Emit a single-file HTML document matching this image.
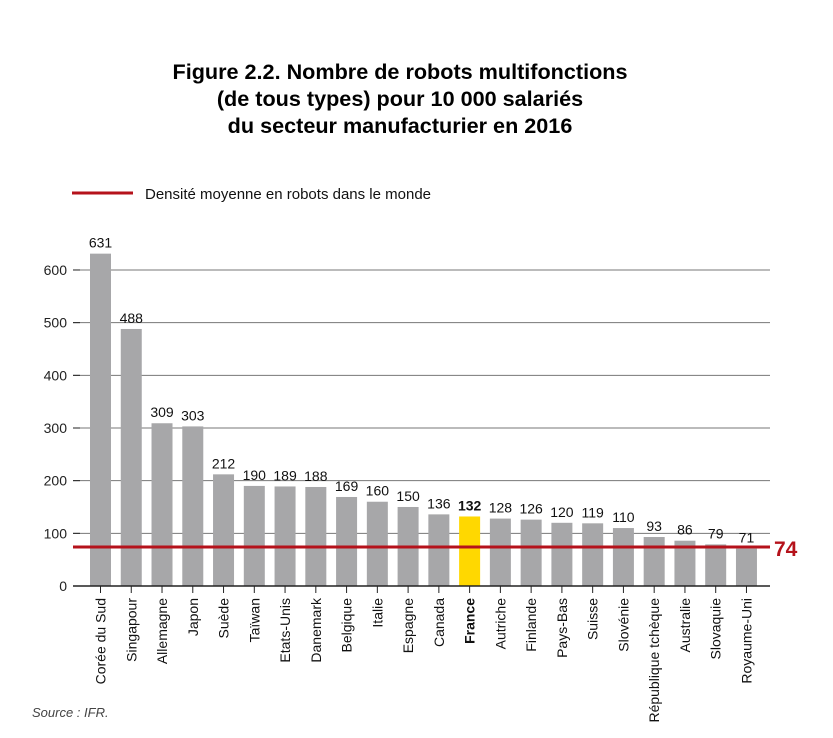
<!DOCTYPE html>
<html><head><meta charset="utf-8">
<style>
body{margin:0;background:#fff;width:833px;height:738px;overflow:hidden;font-family:"Liberation Sans",sans-serif;}
svg{position:absolute;left:0;top:0}
</style></head>
<body>
<svg id="c" width="833" height="738" font-family="Liberation Sans, sans-serif">
<g font-weight="bold" font-size="21" text-anchor="middle" fill="#000" transform="translate(400,0) scale(1.03,1)">
<text x="0" y="79">Figure 2.2. Nombre de robots multifonctions</text>
<text x="0" y="106">(de tous types) pour 10 000 salariés</text>
<text x="0" y="133">du secteur manufacturier en 2016</text>
</g>
<g>
<line x1="72" y1="193" x2="133" y2="193" stroke="#b5121b" stroke-width="3"/>
<text x="145" y="199" font-size="15" fill="#111">Densité moyenne en robots dans le monde</text>
</g>
<g id="grid"></g><g id="bars"></g><g id="axes"></g>
<text x="32" y="717" font-size="13" font-style="italic" fill="#444">Source : IFR.</text>
</svg>
<script>
const categories=["Corée du Sud","Singapour","Allemagne","Japon","Suède","Taïwan","Etats-Unis","Danemark","Belgique","Italie","Espagne","Canada","France","Autriche","Finlande","Pays-Bas","Suisse","Slovénie","République tchèque","Australie","Slovaquie","Royaume-Uni"];
const values=[631,488,309,303,212,190,189,188,169,160,150,136,132,128,126,120,119,110,93,86,79,71];
const yTicks=[0,100,200,300,400,500,600];
const worldAverage=74;
const NS="http://www.w3.org/2000/svg";
const y0=586,pxPer=0.5267,x0=100.5,step=30.76,bw=21,xL=73,xR=770;
const y=v=>y0-v*pxPer, x=i=>x0+i*step;
function mk(t,a,p){const e=document.createElementNS(NS,t);for(const k in a)e.setAttribute(k,a[k]);p.appendChild(e);return e;}
const grid=document.getElementById('grid'),bars=document.getElementById('bars'),axes=document.getElementById('axes');
yTicks.forEach(v=>{
 if(v>0){const g=mk('line',{x1:xL,x2:xR,y1:y(v),y2:y(v),stroke:'#777','stroke-width':1},grid);
 
 }
 const tk=mk('line',{x1:xL,x2:80,y1:y(v),y2:y(v),stroke:'#222','stroke-width':1},axes);
 
 
 const t=mk('text',{x:67,y:y(v)+5,'text-anchor':'end','font-size':14,fill:'#222'},axes);t.textContent=v;
 
 
});
values.forEach((v,i)=>{
 const fr=categories[i]==='France';
 const r=mk('rect',{x:x(i)-bw/2,y:y(v),width:bw,height:y0-y(v),fill:fr?'#ffd800':'#a7a7a9'},bars);
 
 
 const l=mk('text',{x:x(i),y:y(v)-6,'text-anchor':'middle','font-size':14,fill:'#111','font-weight':fr?'bold':'normal'},bars);l.textContent=v;
 
 
 const tk=mk('line',{x1:x(i),x2:x(i),y1:y0,y2:y0+7,stroke:'#222'},axes);
 
 
 const c=mk('text',{transform:`translate(${x(i)+5},598) rotate(-90)`,'text-anchor':'end','font-size':14,fill:'#111','font-weight':fr?'bold':'normal'},axes);c.textContent=categories[i];
 
 
});
const base=mk('line',{x1:xL,x2:xR,y1:y0,y2:y0,stroke:'#222','stroke-width':1.5},axes);


const avg=mk('line',{x1:xL,x2:xR,y1:y(worldAverage),y2:y(worldAverage),stroke:'#b5121b','stroke-width':3},axes);


const al=mk('text',{x:774,y:y(worldAverage)+9,'font-size':21,'font-weight':'bold',fill:'#b5121b'},axes);al.textContent=worldAverage;


</script>
</body></html>
